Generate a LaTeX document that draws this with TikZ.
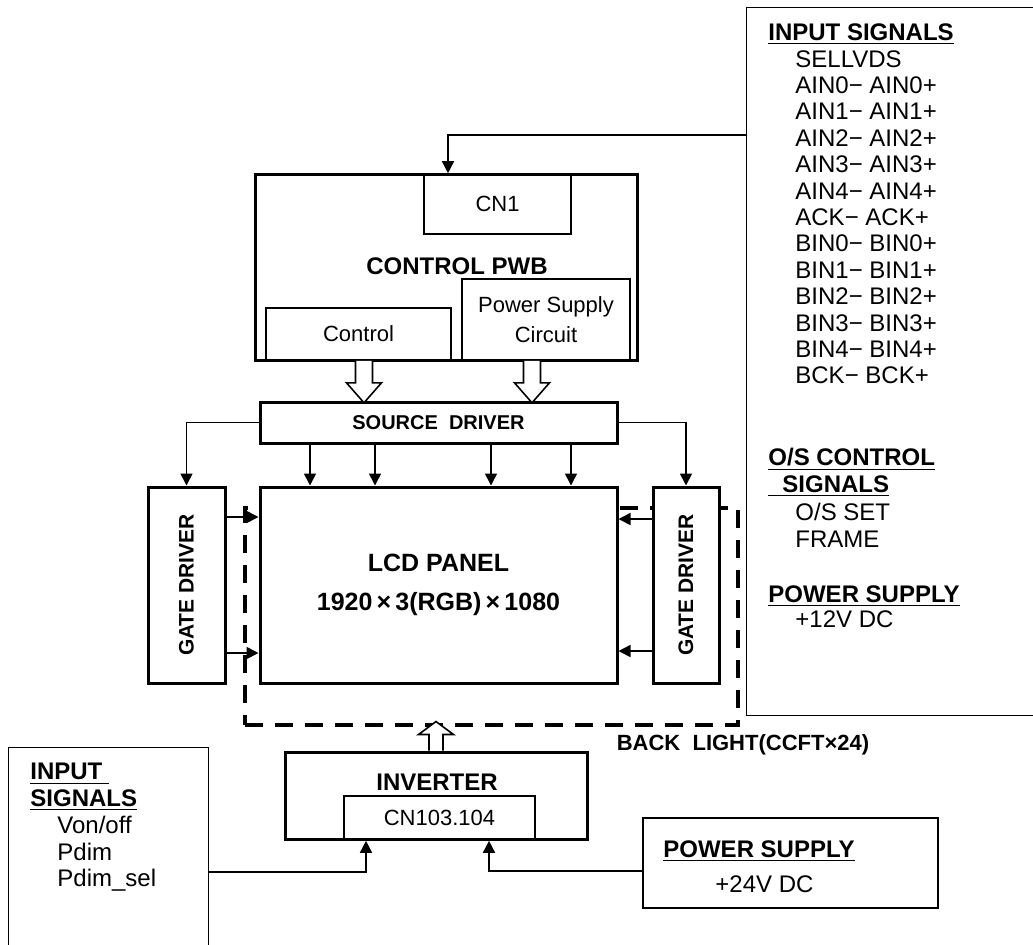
\documentclass[tikz,border=0pt]{standalone}
\usepackage{fontspec}
\setmainfont{Liberation Sans}
\usetikzlibrary{positioning,arrows.meta,calc}

\begin{document}
\begin{tikzpicture}[x=0.5pt,y=-0.5pt,
  >={Triangle[length=6pt,width=6pt]},
  heavy/.style={draw,line width=1.5pt,fill=white,inner sep=0pt},
  light/.style={draw,line width=0.8pt,inner sep=0pt,align=center,font=\fontsize{11}{15}\selectfont},
  blight/.style={draw,line width=1.6pt,dash pattern=on 9pt off 6pt,inner sep=0pt},
  sig/.style={->,line width=0.8pt},
  hollow/.style={draw,line width=0.8pt,fill=white,line join=miter},
  txt/.style={font=\fontsize{12}{13.2}\selectfont,inner sep=0pt,align=left},
  hd/.style={font=\fontsize{12}{13.3}\selectfont\bfseries,inner sep=0pt,align=left},
  big/.style={font=\fontsize{12}{14}\selectfont\bfseries,inner sep=0pt},
  gate/.style={font=\fontsize{10.5}{12}\selectfont\bfseries,inner sep=0pt,rotate=90}
]
\useasboundingbox (0,0) rectangle (1033,944);

% BACK LIGHT: dashed frame behind the panel
\node[blight,minimum width=246.5pt,minimum height=108.5pt] (bl) at (491.5,616.5) {};
\node[font=\fontsize{11}{13}\selectfont\bfseries,inner sep=0pt] (blt) at (743,745) {BACK\ \ LIGHT(CCFT×24)};

% CONTROL PWB
\node[heavy,minimum width=191pt,minimum height=93pt] (pwb) at (446,267) {};
\node[light,minimum width=73.5pt,minimum height=30pt] (cn1) at (497.5,204) {CN1};
\node[big] (pwbt) at (457,266.5) {CONTROL PWB};
\node[light,minimum width=92.5pt,minimum height=26pt] (ctrl) at (358.5,334) {Control};
\node[light,minimum width=84pt,minimum height=40.5pt] (psc) at (546,319.5) {Power Supply\\Circuit};

% SOURCE DRIVER
\node[heavy,minimum width=178.5pt,minimum height=20.5pt,font=\fontsize{10}{12}\selectfont\bfseries] (src) at (438.5,422.5) {SOURCE\ \ DRIVER};

% LCD PANEL with gate drivers on both sides
\node[heavy,minimum width=178.5pt,minimum height=98pt,align=center,font=\fontsize{12.5}{19.5}\selectfont\bfseries] (lcd) at (438.5,585) {LCD PANEL\\1920\,×\,3(RGB)\,×\,1080};
\node[heavy,minimum width=38.5pt,minimum height=98pt] (gdl) at (186.5,585) {};
\node[gate] (gdlt) at (gdl) {GATE DRIVER};
\node[heavy,minimum width=33pt,minimum height=98pt] (gdr) at (686,585) {};
\node[gate] (gdrt) at (gdr) {GATE DRIVER};

% INVERTER
\node[heavy,minimum width=151pt,minimum height=43.5pt] (inv) at (436,795.5) {};
\node[big] (invt) at (437,782.5) {INVERTER};
\node[light,minimum width=95.5pt,minimum height=22pt] (cn103) at (439.5,818) {CN103.104};

% RIGHT: input signal list (open to the right)
\node[minimum width=146.5pt,minimum height=353.5pt,inner sep=0pt] (insigr) at (893.5,361.5) {};
\draw[line width=0.8pt] (insigr.north east) -- (insigr.north west) -- (insigr.south west) -- (insigr.south east);
\node[hd,anchor=base west] (rhd1) at (768,40) {\underline{INPUT SIGNALS}};
\node[txt,anchor=north west] (rlist1) at (795,50) {SELLVDS\\AIN0− AIN0+\\AIN1− AIN1+\\AIN2− AIN2+\\AIN3− AIN3+\\AIN4− AIN4+\\ACK− ACK+\\BIN0− BIN0+\\BIN1− BIN1+\\BIN2− BIN2+\\BIN3− BIN3+\\BIN4− BIN4+\\BCK− BCK+};
\node[hd,anchor=north west] (rhd2) at (768,448) {\underline{O/S CONTROL}\\\underline{\hspace*{7pt}SIGNALS}};
\node[txt,anchor=north west] (rlist2) at (795,503) {O/S SET\\FRAME};
\node[hd,anchor=base west] (rhd3) at (768,602) {\underline{POWER SUPPLY}};
\node[txt,anchor=base west] (rlist3) at (795,627) {+12V DC};

% LEFT BOTTOM: inverter input signals (open at the bottom)
\node[minimum width=99.5pt,minimum height=100pt,inner sep=0pt] (insigl) at (108.5,848) {};
\draw[line width=0.8pt] (insigl.south west) -- (insigl.north west) -- (insigl.north east) -- (insigl.south east);
\node[hd,anchor=north west] (lhd) at (30,763) {\underline{INPUT\ }\\\underline{SIGNALS}};
\node[txt,anchor=north west] (llist) at (57,816) {Von/off\\Pdim\\Pdim\_sel};

% RIGHT BOTTOM: inverter power supply
\node[light,minimum width=147.5pt,minimum height=45pt] (ps) at (790.5,863) {};
\node[hd,anchor=base west] (pshd) at (663,857) {\underline{POWER SUPPLY}};
\node[txt,anchor=base west] (psv) at (715,892) {+24V DC};

% signal lines
\coordinate (sigin) at (747,135);
\draw[sig] (sigin) -| ([xshift=-24.75pt]cn1.north);
\draw[sig] (src.west) -| (gdl.north);
\draw[sig] (src.east) -| (gdr.north);
\draw[sig] ([xshift=-64.25pt]src.south) -- ([xshift=-64.25pt]lcd.north);
\draw[sig] ([xshift=-31.75pt]src.south) -- ([xshift=-31.75pt]lcd.north);
\draw[sig] ([xshift=26.25pt]src.south) -- ([xshift=26.25pt]lcd.north);
\draw[sig] ([xshift=66.25pt]src.south) -- ([xshift=66.25pt]lcd.north);
\draw[sig] ([yshift=34pt]gdl.east) -- ([yshift=34pt]lcd.west);
\draw[sig] ([yshift=-34pt]gdl.east) -- ([yshift=-34pt]lcd.west);
\draw[sig] ([yshift=33pt]gdr.west) -- ([yshift=33pt]lcd.east);
\draw[sig] ([yshift=-33pt]gdr.west) -- ([yshift=-33pt]lcd.east);
\draw[sig] ([yshift=-12pt]insigl.east) -| ([xshift=-36.75pt]cn103.south);
\draw[sig] ([yshift=-4pt]ps.west) -| ([xshift=24.75pt]cn103.south);

% hollow arrows
\draw[hollow] ([xshift=2.75pt]ctrl.south) ++(-8.5,0) -- ++(0,22) -- ++(-9,0) -- ++(17.5,20) -- ++(17.5,-20) -- ++(-9,0) -- ++(0,-22);
\draw[hollow] ([xshift=-7pt]psc.south) ++(-8.5,0) -- ++(0,22) -- ++(-9,0) -- ++(17.5,20) -- ++(17.5,-20) -- ++(-9,0) -- ++(0,-22);
\draw[hollow] (inv.north) ++(-7,0) -- ++(0,-16) -- ++(-10.5,0) -- ++(17.5,-13) -- ++(17.5,13) -- ++(-10.5,0) -- ++(0,16);

\end{tikzpicture}
\end{document}
